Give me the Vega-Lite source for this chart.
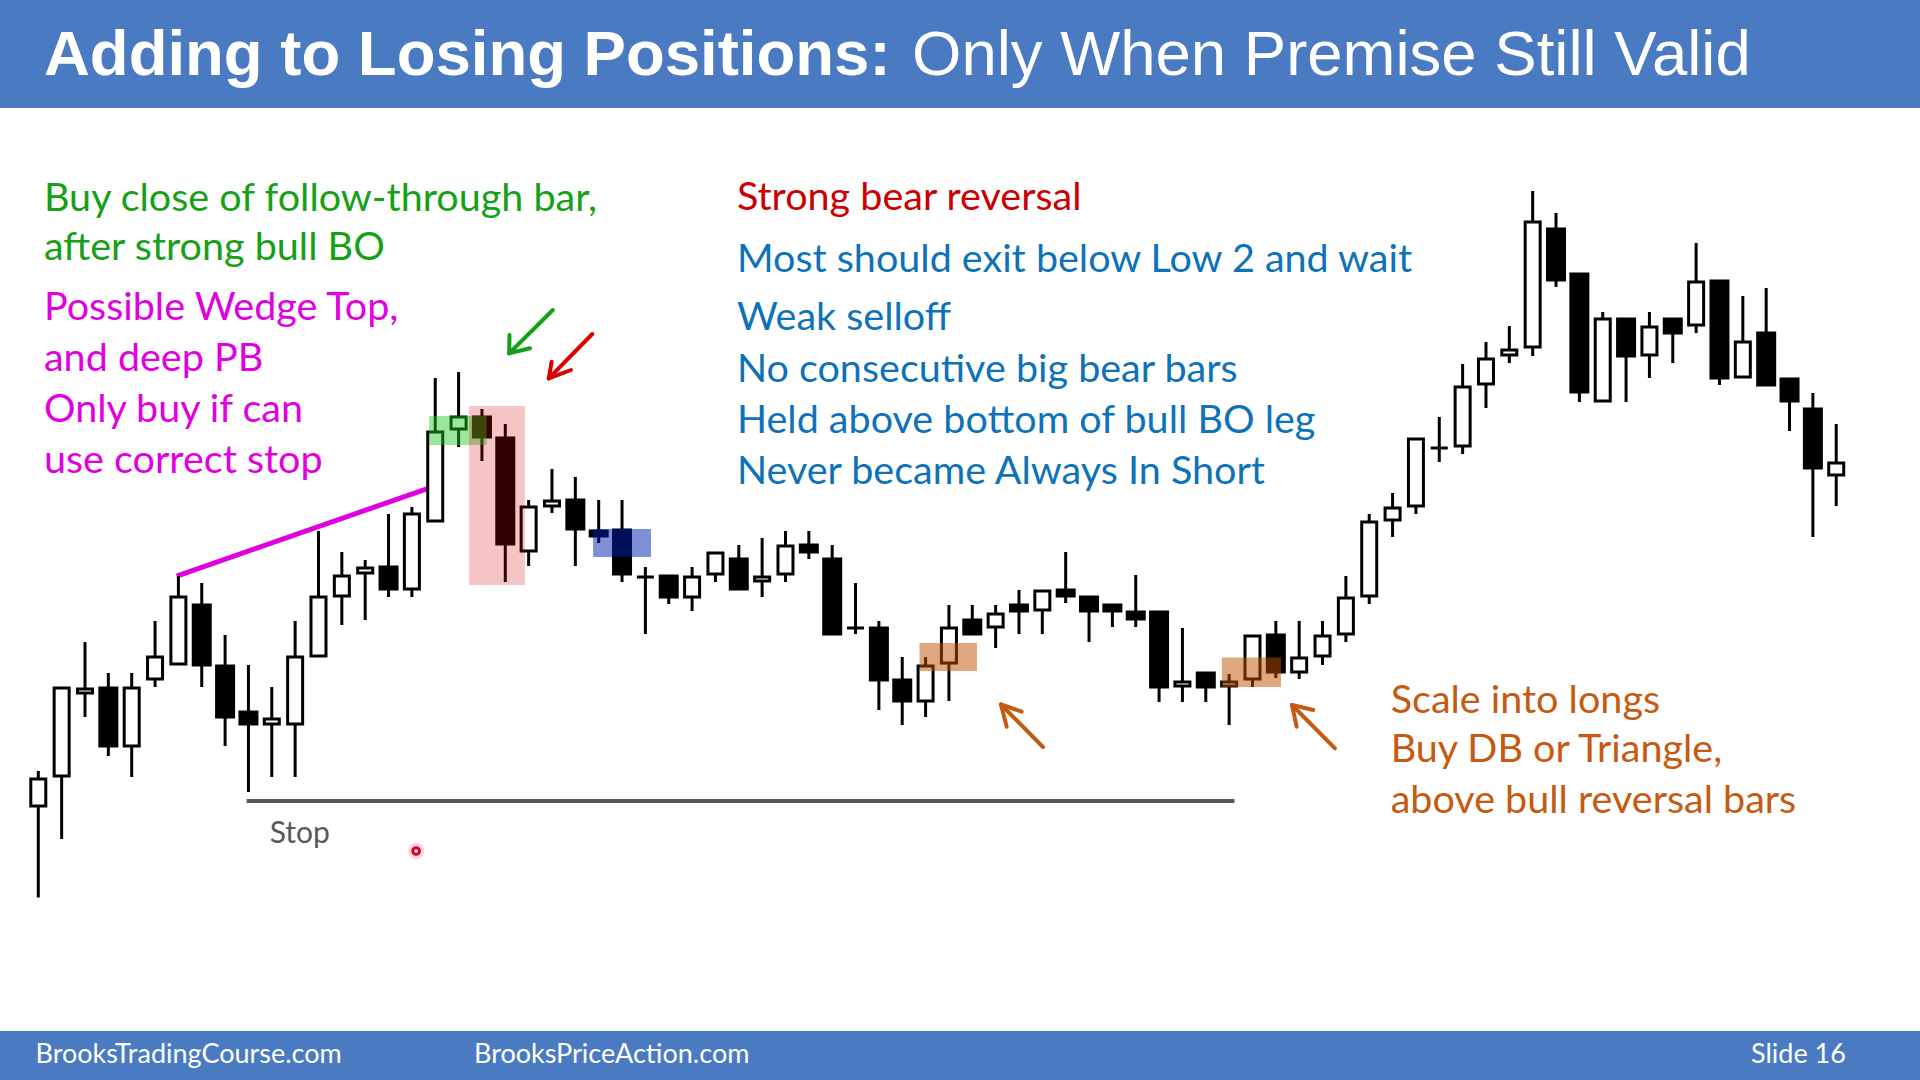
{
  "$schema": "https://vega.github.io/schema/vega-lite/v6.json",
  "width": 1920,
  "height": 1080,
  "autosize": {"type": "none"},
  "padding": 0,
  "background": "white",
  "config": {"view": {"stroke": null}},
  "resolve": {"scale": {"color": "independent"}},
  "datasets": {
    "candles": [
      {"i":1,"open":27.4,"high":30.9,"low":18.25,"close":30.1},
      {"i":2,"open":30.4,"high":39.2,"low":24.1,"close":39.2},
      {"i":3,"open":38.7,"high":43.8,"low":36.3,"close":39.1},
      {"i":4,"open":39.2,"high":40.7,"low":32.4,"close":33.4},
      {"i":5,"open":33.4,"high":40.7,"low":30.3,"close":39.2},
      {"i":6,"open":40.1,"high":45.9,"low":39.3,"close":42.3},
      {"i":7,"open":41.6,"high":50.4,"low":41.6,"close":48.3},
      {"i":8,"open":47.5,"high":49.7,"low":39.3,"close":41.5},
      {"i":9,"open":41.4,"high":44.5,"low":33.4,"close":36.3},
      {"i":10,"open":36.8,"high":41.5,"low":28.8,"close":35.6},
      {"i":11,"open":35.6,"high":39.3,"low":30.3,"close":36.1},
      {"i":12,"open":35.6,"high":45.9,"low":30.3,"close":42.3},
      {"i":13,"open":42.4,"high":54.9,"low":42.4,"close":48.3},
      {"i":14,"open":48.4,"high":52.8,"low":45.5,"close":50.4},
      {"i":15,"open":50.7,"high":52.0,"low":46.0,"close":51.2},
      {"i":16,"open":51.3,"high":56.6,"low":48.3,"close":49.1},
      {"i":17,"open":49.1,"high":57.3,"low":48.3,"close":56.6},
      {"i":18,"open":55.9,"high":70.2,"low":55.9,"close":64.8},
      {"i":19,"open":65.1,"high":70.8,"low":63.3,"close":66.3},
      {"i":20,"open":66.3,"high":67.1,"low":61.9,"close":64.3},
      {"i":21,"open":64.2,"high":65.6,"low":49.8,"close":53.6},
      {"i":22,"open":52.9,"high":58.0,"low":51.4,"close":57.3},
      {"i":23,"open":57.4,"high":61.1,"low":56.7,"close":57.9},
      {"i":24,"open":58.0,"high":60.3,"low":51.4,"close":55.1},
      {"i":25,"open":54.9,"high":58.0,"low":53.7,"close":54.4},
      {"i":26,"open":55.0,"high":58.0,"low":49.8,"close":50.6},
      {"i":27,"open":50.3,"high":51.3,"low":44.6,"close":50.3},
      {"i":28,"open":50.4,"high":50.4,"low":47.6,"close":48.3},
      {"i":29,"open":48.3,"high":51.3,"low":46.9,"close":50.3},
      {"i":30,"open":50.6,"high":52.7,"low":49.8,"close":52.7},
      {"i":31,"open":52.1,"high":53.5,"low":49.1,"close":49.1},
      {"i":32,"open":49.9,"high":54.2,"low":48.3,"close":50.3},
      {"i":33,"open":50.6,"high":54.9,"low":49.8,"close":53.4},
      {"i":34,"open":53.5,"high":54.9,"low":52.1,"close":52.8},
      {"i":35,"open":52.1,"high":53.5,"low":44.6,"close":44.6},
      {"i":36,"open":45.2,"high":49.7,"low":44.6,"close":45.2},
      {"i":37,"open":45.2,"high":45.9,"low":37.0,"close":40.0},
      {"i":38,"open":40.0,"high":42.3,"low":35.5,"close":37.9},
      {"i":39,"open":37.9,"high":42.3,"low":36.3,"close":41.4},
      {"i":40,"open":41.7,"high":47.5,"low":37.9,"close":45.2},
      {"i":41,"open":46.0,"high":47.5,"low":44.6,"close":44.6},
      {"i":42,"open":45.3,"high":47.5,"low":43.2,"close":46.6},
      {"i":43,"open":47.5,"high":49.0,"low":44.6,"close":46.9},
      {"i":44,"open":47.0,"high":48.9,"low":44.6,"close":48.9},
      {"i":45,"open":49.0,"high":52.8,"low":47.7,"close":48.4},
      {"i":46,"open":48.3,"high":48.3,"low":43.8,"close":46.9},
      {"i":47,"open":47.5,"high":47.5,"low":45.3,"close":46.9},
      {"i":48,"open":46.8,"high":50.5,"low":45.3,"close":46.1},
      {"i":49,"open":46.8,"high":46.8,"low":37.8,"close":39.3},
      {"i":50,"open":39.4,"high":45.2,"low":37.8,"close":39.8},
      {"i":51,"open":40.7,"high":40.7,"low":37.8,"close":39.3},
      {"i":52,"open":39.4,"high":40.6,"low":35.5,"close":39.8},
      {"i":53,"open":40.1,"high":44.4,"low":39.3,"close":44.4},
      {"i":54,"open":44.5,"high":45.9,"low":40.2,"close":40.8},
      {"i":55,"open":40.8,"high":45.9,"low":40.1,"close":42.2},
      {"i":56,"open":42.4,"high":45.9,"low":41.5,"close":44.4},
      {"i":57,"open":44.6,"high":50.4,"low":43.8,"close":48.2},
      {"i":58,"open":48.4,"high":56.6,"low":47.6,"close":55.8},
      {"i":59,"open":56.0,"high":58.7,"low":54.3,"close":57.2},
      {"i":60,"open":57.4,"high":64.1,"low":56.6,"close":64.1},
      {"i":61,"open":63.2,"high":66.3,"low":61.8,"close":63.2},
      {"i":62,"open":63.4,"high":71.6,"low":62.6,"close":69.3},
      {"i":63,"open":69.6,"high":73.8,"low":67.2,"close":72.1},
      {"i":64,"open":72.5,"high":75.4,"low":71.7,"close":73.0},
      {"i":65,"open":73.3,"high":88.9,"low":72.4,"close":85.8},
      {"i":66,"open":85.1,"high":86.7,"low":79.3,"close":80.0},
      {"i":67,"open":80.6,"high":80.6,"low":67.8,"close":68.8},
      {"i":68,"open":67.9,"high":76.8,"low":67.9,"close":76.1},
      {"i":69,"open":76.1,"high":76.1,"low":67.8,"close":72.4},
      {"i":70,"open":72.5,"high":76.8,"low":70.2,"close":75.3},
      {"i":71,"open":76.1,"high":76.1,"low":71.7,"close":74.7},
      {"i":72,"open":75.5,"high":83.7,"low":74.7,"close":79.8},
      {"i":73,"open":79.9,"high":79.9,"low":69.5,"close":70.2},
      {"i":74,"open":70.3,"high":78.4,"low":70.3,"close":73.8},
      {"i":75,"open":74.7,"high":79.2,"low":69.5,"close":69.5},
      {"i":76,"open":70.1,"high":70.1,"low":64.9,"close":67.9},
      {"i":77,"open":67.1,"high":68.7,"low":54.3,"close":61.2},
      {"i":78,"open":60.5,"high":65.6,"low":57.4,"close":61.7}
    ],
    "zones": [
      {"x":17.74,"x2":20.20,"y":63.5,"y2":66.4,"group":"entry"},
      {"x":19.45,"x2":21.84,"y":49.5,"y2":67.4,"group":"reversal"},
      {"x":24.76,"x2":27.24,"y":52.3,"y2":55.1,"group":"low2"},
      {"x":38.74,"x2":41.20,"y":40.9,"y2":43.7,"group":"scale"},
      {"x":51.69,"x2":54.22,"y":39.3,"y2":42.24,"group":"scale"}
    ],
    "arrows": [
      {"x":23.034,"y":77.0,"x2":21.167,"y2":72.67,"group":"buy"},
      {"x":21.180,"y":74.5,"x2":21.167,"y2":72.67,"group":"buy"},
      {"x":22.058,"y":73.17,"x2":21.167,"y2":72.67,"group":"buy"},
      {"x":24.726,"y":74.6,"x2":22.863,"y2":70.17,"group":"bear"},
      {"x":22.987,"y":71.83,"x2":22.863,"y2":70.17,"group":"bear"},
      {"x":23.814,"y":71.0,"x2":22.863,"y2":70.17,"group":"bear"},
      {"x":44.028,"y":33.3,"x2":42.229,"y2":37.55,"group":"scale"},
      {"x":42.473,"y":35.33,"x2":42.229,"y2":37.55,"group":"scale"},
      {"x":43.115,"y":36.83,"x2":42.229,"y2":37.55,"group":"scale"},
      {"x":56.533,"y":33.17,"x2":54.692,"y2":37.5,"group":"scale"},
      {"x":54.893,"y":35.33,"x2":54.692,"y2":37.5,"group":"scale"},
      {"x":55.604,"y":37.0,"x2":54.692,"y2":37.5,"group":"scale"}
    ],
    "notes": [
      {"x":1.244,"y":86.93,"text":"Buy close of follow-through bar,","group":"buy"},
      {"x":1.244,"y":82.0,"text":"after strong bull BO","group":"buy"},
      {"x":1.244,"y":76.0,"text":"Possible Wedge Top,","group":"wedge"},
      {"x":1.244,"y":70.9,"text":"and deep PB","group":"wedge"},
      {"x":1.244,"y":65.83,"text":"Only buy if can","group":"wedge"},
      {"x":1.244,"y":60.67,"text":"use correct stop","group":"wedge"},
      {"x":30.92,"y":87.0,"text":"Strong bear reversal","group":"bear"},
      {"x":30.92,"y":80.83,"text":"Most should exit below Low 2 and wait","group":"note"},
      {"x":30.92,"y":75.0,"text":"Weak selloff","group":"note"},
      {"x":30.92,"y":69.83,"text":"No consecutive big bear bars","group":"note"},
      {"x":30.92,"y":64.67,"text":"Held above bottom of bull BO leg","group":"note"},
      {"x":30.92,"y":59.6,"text":"Never became Always In Short","group":"note"},
      {"x":58.92,"y":36.73,"text":"Scale into longs","group":"scale"},
      {"x":58.92,"y":31.83,"text":"Buy DB or Triangle,","group":"scale"},
      {"x":58.92,"y":26.67,"text":"above bull reversal bars","group":"scale"}
    ],
    "footer": [
      {"x":0.88,"y":1.75,"text":"BrooksTradingCourse.com"},
      {"x":19.66,"y":1.75,"text":"BrooksPriceAction.com"},
      {"x":74.35,"y":1.75,"text":"Slide  16"}
    ]
  },
  "layer": [
    {
      "data": {"values": [{"x":-3,"x2":85,"y":97.2,"y2":112},{"x":-3,"x2":85,"y":-3,"y2":4.9}]},
      "mark": {"type": "rect", "color": "#4a7ac2"},
      "encoding": {
        "x": {"field": "x", "type": "quantitative", "scale": {"domain": [-0.64, 81.588], "nice": false, "zero": false, "padding": 0}, "axis": null},
        "x2": {"field": "x2"},
        "y": {"field": "y", "type": "quantitative", "scale": {"domain": [0, 108], "nice": false, "zero": false, "padding": 0}, "axis": null},
        "y2": {"field": "y2"}
      }
    },
    {
      "data": {"values": [{"x":6.928,"y":50.39,"x2":17.70,"y2":59.17}]},
      "mark": {"type": "rule", "color": "#e000e0", "strokeWidth": 5},
      "encoding": {
        "x": {"field": "x", "type": "quantitative", "axis": null},
        "x2": {"field": "x2"},
        "y": {"field": "y", "type": "quantitative", "axis": null},
        "y2": {"field": "y2"}
      }
    },
    {
      "data": {"values": [{"x":9.92,"x2":52.23,"y":27.9}]},
      "mark": {"type": "rule", "color": "#595959", "strokeWidth": 4},
      "encoding": {
        "x": {"field": "x", "type": "quantitative", "axis": null},
        "x2": {"field": "x2"},
        "y": {"field": "y", "type": "quantitative", "axis": null}
      }
    },
    {
      "data": {"name": "candles"},
      "mark": {"type": "rule", "color": "black", "strokeWidth": 3},
      "encoding": {
        "x": {"field": "i", "type": "quantitative", "axis": null},
        "y": {"field": "low", "type": "quantitative", "axis": null},
        "y2": {"field": "high"}
      }
    },
    {
      "data": {"name": "candles"},
      "transform": [{"filter": "datum.close > datum.open"}],
      "mark": {"type": "bar", "width": 15, "fill": "white", "stroke": "black", "strokeWidth": 3},
      "encoding": {
        "x": {"field": "i", "type": "quantitative", "axis": null},
        "y": {"field": "open", "type": "quantitative", "axis": null},
        "y2": {"field": "close"}
      }
    },
    {
      "data": {"name": "candles"},
      "transform": [{"filter": "datum.close <= datum.open"}],
      "mark": {"type": "bar", "width": 17, "fill": "black", "stroke": "black", "strokeWidth": 3},
      "encoding": {
        "x": {"field": "i", "type": "quantitative", "axis": null},
        "y": {"field": "open", "type": "quantitative", "axis": null},
        "y2": {"field": "close"}
      }
    },
    {
      "data": {"name": "zones"},
      "mark": {"type": "rect"},
      "encoding": {
        "x": {"field": "x", "type": "quantitative", "axis": null},
        "x2": {"field": "x2"},
        "y": {"field": "y", "type": "quantitative", "axis": null},
        "y2": {"field": "y2"},
        "color": {"field": "group", "type": "nominal", "legend": null,
          "scale": {"domain": ["entry", "reversal", "low2", "scale"], "range": ["rgba(34,204,34,0.45)", "rgba(210,0,0,0.23)", "rgba(0,32,176,0.5)", "rgba(192,80,0,0.5)"]}}
      }
    },
    {
      "data": {"name": "arrows"},
      "mark": {"type": "rule", "strokeWidth": 4, "strokeCap": "round"},
      "encoding": {
        "x": {"field": "x", "type": "quantitative", "axis": null},
        "x2": {"field": "x2"},
        "y": {"field": "y", "type": "quantitative", "axis": null},
        "y2": {"field": "y2"},
        "color": {"field": "group", "type": "nominal", "legend": null,
          "scale": {"domain": ["buy", "bear", "scale"], "range": ["#14a014", "#dd0000", "#c55a11"]}}
      }
    },
    {
      "data": {"name": "notes"},
      "mark": {"type": "text", "align": "left", "baseline": "alphabetic", "font": "Lato", "fontSize": 39.5},
      "encoding": {
        "x": {"field": "x", "type": "quantitative", "axis": null},
        "y": {"field": "y", "type": "quantitative", "axis": null},
        "text": {"field": "text"},
        "color": {"field": "group", "type": "nominal", "legend": null,
          "scale": {"domain": ["buy", "wedge", "bear", "note", "scale"], "range": ["#16a016", "#e000e0", "#cc0000", "#0e72b9", "#c55a11"]}}
      }
    },
    {
      "data": {"values": [{"x":10.91,"y":23.73,"text":"Stop"}]},
      "mark": {"type": "text", "align": "left", "baseline": "alphabetic", "font": "Lato", "fontSize": 30, "color": "#595959"},
      "encoding": {
        "x": {"field": "x", "type": "quantitative", "axis": null},
        "y": {"field": "y", "type": "quantitative", "axis": null},
        "text": {"field": "text"}
      }
    },
    {
      "data": {"values": [{"x":1.244,"y":100.5,"text":"Adding to Losing Positions:"}]},
      "mark": {"type": "text", "align": "left", "baseline": "alphabetic", "font": "Liberation Sans", "fontWeight": "bold", "fontSize": 63.5, "color": "white"},
      "encoding": {
        "x": {"field": "x", "type": "quantitative", "axis": null},
        "y": {"field": "y", "type": "quantitative", "axis": null},
        "text": {"field": "text"}
      }
    },
    {
      "data": {"values": [{"x":38.42,"y":100.5,"text":"Only When Premise Still Valid"}]},
      "mark": {"type": "text", "align": "left", "baseline": "alphabetic", "font": "Liberation Sans", "fontSize": 63.5, "color": "white"},
      "encoding": {
        "x": {"field": "x", "type": "quantitative", "axis": null},
        "y": {"field": "y", "type": "quantitative", "axis": null},
        "text": {"field": "text"}
      }
    },
    {
      "data": {"name": "footer"},
      "mark": {"type": "text", "align": "left", "baseline": "alphabetic", "font": "Lato", "fontSize": 27, "color": "white"},
      "encoding": {
        "x": {"field": "x", "type": "quantitative", "axis": null},
        "y": {"field": "y", "type": "quantitative", "axis": null},
        "text": {"field": "text"}
      }
    },
    {
      "data": {"values": [{"x":17.18,"y":22.9}]},
      "mark": {"type": "point", "shape": "circle", "filled": true, "size": 260, "color": "#ff7088", "opacity": 0.3},
      "encoding": {
        "x": {"field": "x", "type": "quantitative", "axis": null},
        "y": {"field": "y", "type": "quantitative", "axis": null}
      }
    },
    {
      "data": {"values": [{"x":17.18,"y":22.9}]},
      "mark": {"type": "point", "shape": "circle", "filled": false, "size": 45, "stroke": "#e0001a", "fill": "white", "strokeWidth": 3, "opacity": 1},
      "encoding": {
        "x": {"field": "x", "type": "quantitative", "axis": null},
        "y": {"field": "y", "type": "quantitative", "axis": null}
      }
    }
  ]
}
